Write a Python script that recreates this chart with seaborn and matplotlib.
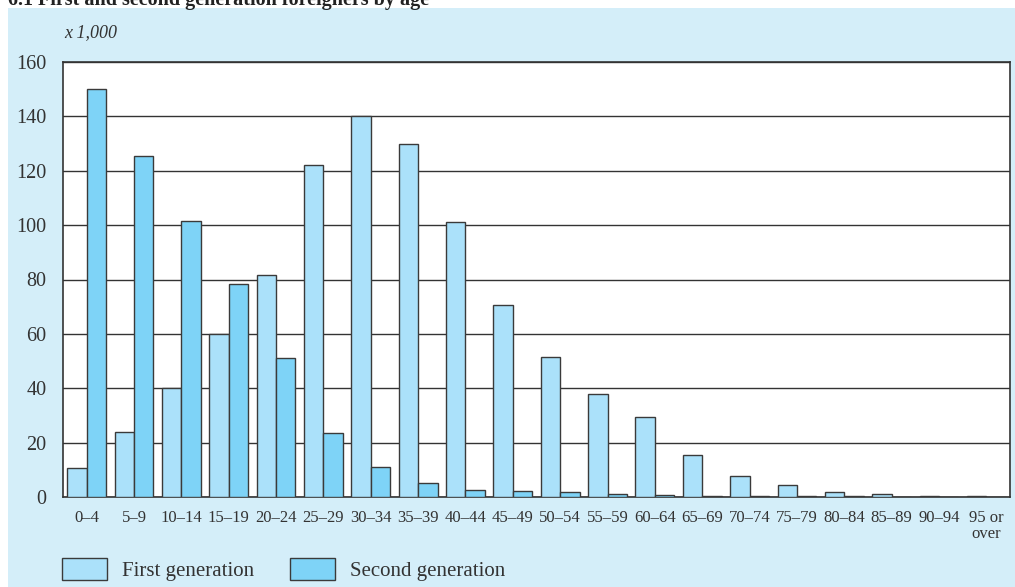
import matplotlib
matplotlib.use("Agg")
import matplotlib.pyplot as plt
from matplotlib.patches import Rectangle, Patch
import pandas as pd
import seaborn as sns

# age groups and values (x 1,000)
age_groups = ["0–4", "5–9", "10–14", "15–19", "20–24", "25–29", "30–34", "35–39",
              "40–44", "45–49", "50–54", "55–59", "60–64", "65–69", "70–74",
              "75–79", "80–84", "85–89", "90–94", "95 or\nover"]
first_gen = [10.5, 24, 40, 60, 81.5, 122, 140, 130, 101, 70.5, 51.5, 38, 29.5,
             15.6, 7.8, 4.3, 2.0, 1.0, 0.4, 0.2]
second_gen = [150, 125.5, 101.5, 78.5, 51, 23.5, 11, 5, 2.5, 2.1, 1.7, 1.1, 0.9,
              0.5, 0.4, 0.3, 0.2, 0.1, 0.1, 0.05]

df = pd.DataFrame({
    "age": age_groups * 2,
    "value": first_gen + second_gen,
    "gen": ["First generation"] * len(age_groups) + ["Second generation"] * len(age_groups),
})

sns.set_theme(style="white")
plt.rcParams["font.family"] = ["Liberation Serif", "DejaVu Serif"]

c_first = "#ABE1FA"
c_second = "#7ED3F7"
edge = "#3a3a3a"
panel = "#D4EEF9"

fig = plt.figure(figsize=(10.15, 5.87), dpi=100)
fig.patch.set_facecolor("white")
fig.add_artist(Rectangle((8 / 1015, 0), 1, 1 - 8 / 587, transform=fig.transFigure,
                         facecolor=panel, edgecolor="none", zorder=0))
# title is cropped at the top edge, as in the source image
fig.text(8 / 1015, 1 - 5 / 587, "6.1 First and second generation foreigners by age",
         fontsize=14.5, fontweight="bold", va="baseline", ha="left", color="#222222")

ax = fig.add_axes([63 / 1015, 1 - 497 / 587, (1010 - 63) / 1015, (497 - 62) / 587])
ax.set_facecolor("white")
sns.barplot(data=df, x="age", y="value", hue="gen", palette=[c_first, c_second],
            width=0.82, edgecolor=edge, linewidth=1.0, saturation=1, ax=ax,
            legend=False, zorder=3)

ax.set_ylim(0, 160)
ax.set_xlim(-0.5, len(age_groups) - 0.5)
ax.set_yticks(range(0, 161, 20))
ax.yaxis.grid(True, color="#333333", linewidth=1.0, zorder=0)
ax.set_axisbelow(True)
for s in ax.spines.values():
    s.set_color("#333333")
    s.set_linewidth(1.2)
ax.set_xlabel("")
ax.set_ylabel("")
ax.tick_params(axis="y", length=0, pad=12, labelsize=14.5, labelcolor="#333333")
ax.tick_params(axis="x", length=0, pad=9, labelsize=12, labelcolor="#333333")
for lbl in ax.get_xticklabels():
    lbl.set_verticalalignment("top")
    lbl.set_linespacing(1.0)

fig.text(64 / 1015, 1 - 33 / 587, "x 1,000", fontsize=13, fontstyle="italic",
         va="center", ha="left", color="#333333")

handles = [Patch(facecolor=c_first, edgecolor=edge, linewidth=1.0),
           Patch(facecolor=c_second, edgecolor=edge, linewidth=1.0)]
fig.legend(handles, ["First generation", "Second generation"], ncol=2,
           loc="lower left", bbox_to_anchor=(62 / 1015, 6 / 587),
           frameon=False, fontsize=15, handlelength=2.15, handleheight=1.2,
           handletextpad=0.72, columnspacing=1.75, borderpad=0, borderaxespad=0,
           labelcolor="#333333")

fig.savefig("out.png", dpi=100)
